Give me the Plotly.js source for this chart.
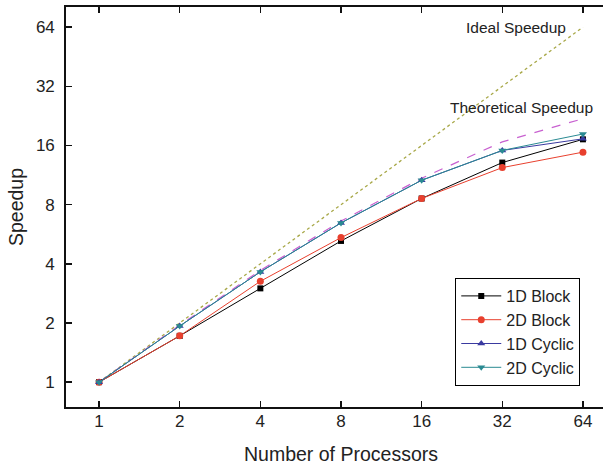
<!DOCTYPE html>
<html>
<head>
<meta charset="utf-8">
<script src="https://cdn.plot.ly/plotly-3.0.1.min.js"></script>
<style>
html,body{margin:0;padding:0;overflow:hidden;background:#fff;}
#chart{width:620px;height:467px;}
</style>
</head>
<body>
<div id="chart"></div>
<script>
const processors = [1, 2, 4, 8, 16, 32, 64];
const tickLabels = ['1', '2', '4', '8', '16', '32', '64'];
const ideal = [1, 2, 4, 8, 16, 32, 64];
const theoretical = [1, 1.95, 3.7, 6.6, 10.9, 16.7, 21.9];
const block1D = [1, 1.72, 3.0, 5.23, 8.6, 13.1, 17.2];
const block2D = [1, 1.72, 3.26, 5.44, 8.6, 12.35, 14.8];
const cyclic1D = [1, 1.93, 3.64, 6.46, 10.65, 15.1, 17.3];
const cyclic2D = [1, 1.93, 3.64, 6.46, 10.65, 15.1, 18.3];

const font = 'Liberation Sans, Arial, Helvetica, sans-serif';

const traces = [
  {x: processors, y: ideal, mode: 'lines', showlegend: false,
   line: {color: '#a8a848', width: 1.3, dash: 'dot'}, hoverinfo: 'skip'},
  {x: processors, y: theoretical, mode: 'lines', showlegend: false,
   line: {color: '#c860d0', width: 1.2, dash: 'dash'}, hoverinfo: 'skip'},
  {x: processors, y: block1D, name: '1D Block', mode: 'lines+markers',
   line: {color: '#000000', width: 1}, marker: {symbol: 'square', size: 6, color: '#000000'}},
  {x: processors, y: block2D, name: '2D Block', mode: 'lines+markers',
   line: {color: '#e8402e', width: 1}, marker: {symbol: 'circle', size: 7, color: '#e8402e'}},
  {x: processors, y: cyclic1D, name: '1D Cyclic', mode: 'lines+markers',
   line: {color: '#3a3aa0', width: 1}, marker: {symbol: 'triangle-up', size: 7, color: '#3a3aa0'}},
  {x: processors, y: cyclic2D, name: '2D Cyclic', mode: 'lines+markers',
   line: {color: '#2a8a92', width: 1}, marker: {symbol: 'triangle-down', size: 7, color: '#2a8a92'}}
];

const axisCommon = {
  type: 'log',
  showgrid: false, zeroline: false,
  showline: true, linecolor: '#111', linewidth: 1.8, mirror: 'ticks',
  ticks: 'inside', ticklen: 6, tickwidth: 1.4, tickcolor: '#111',
  tickfont: {family: font, size: 17, color: '#222'}
};

const layout = {
  width: 620, height: 467,
  margin: {l: 66, r: 4, t: 7, b: 60},
  paper_bgcolor: '#fff', plot_bgcolor: '#fff',
  font: {family: font, color: '#222'},
  xaxis: Object.assign({}, axisCommon, {
    range: [-0.1234, 1.9296],
    tickvals: processors, ticktext: tickLabels,
    ticklabelstandoff: -2,
    title: {text: 'Number of Processors', font: {family: font, size: 19.5, color: '#222'}, standoff: 17}
  }),
  yaxis: Object.assign({}, axisCommon, {
    range: [-0.1264, 1.9088],
    tickvals: ideal, ticktext: tickLabels,
    ticklabelstandoff: 6,
    title: {text: 'Speedup', font: {family: font, size: 19.5, color: '#222'}, standoff: 7}
  }),
  legend: {
    x: 0.935, y: 0.0525, xanchor: 'right', yanchor: 'bottom',
    bordercolor: '#000', borderwidth: 1, bgcolor: '#fff',
    font: {family: font, size: 16, color: '#222'},
    itemwidth: 40, tracegroupgap: 0
  },
  annotations: [
    {x: 0.818, y: 0.95, xref: 'paper', yref: 'paper', text: 'Ideal Speedup',
     showarrow: false, xanchor: 'center', yanchor: 'middle', font: {family: font, size: 15.5, color: '#222'}},
    {x: 0.828, y: 0.75, xref: 'paper', yref: 'paper', text: 'Theoretical Speedup',
     showarrow: false, xanchor: 'center', yanchor: 'middle', font: {family: font, size: 15.5, color: '#222'}}
  ]
};

Plotly.newPlot('chart', traces, layout, {displayModeBar: false, staticPlot: true});
</script>
</body>
</html>
